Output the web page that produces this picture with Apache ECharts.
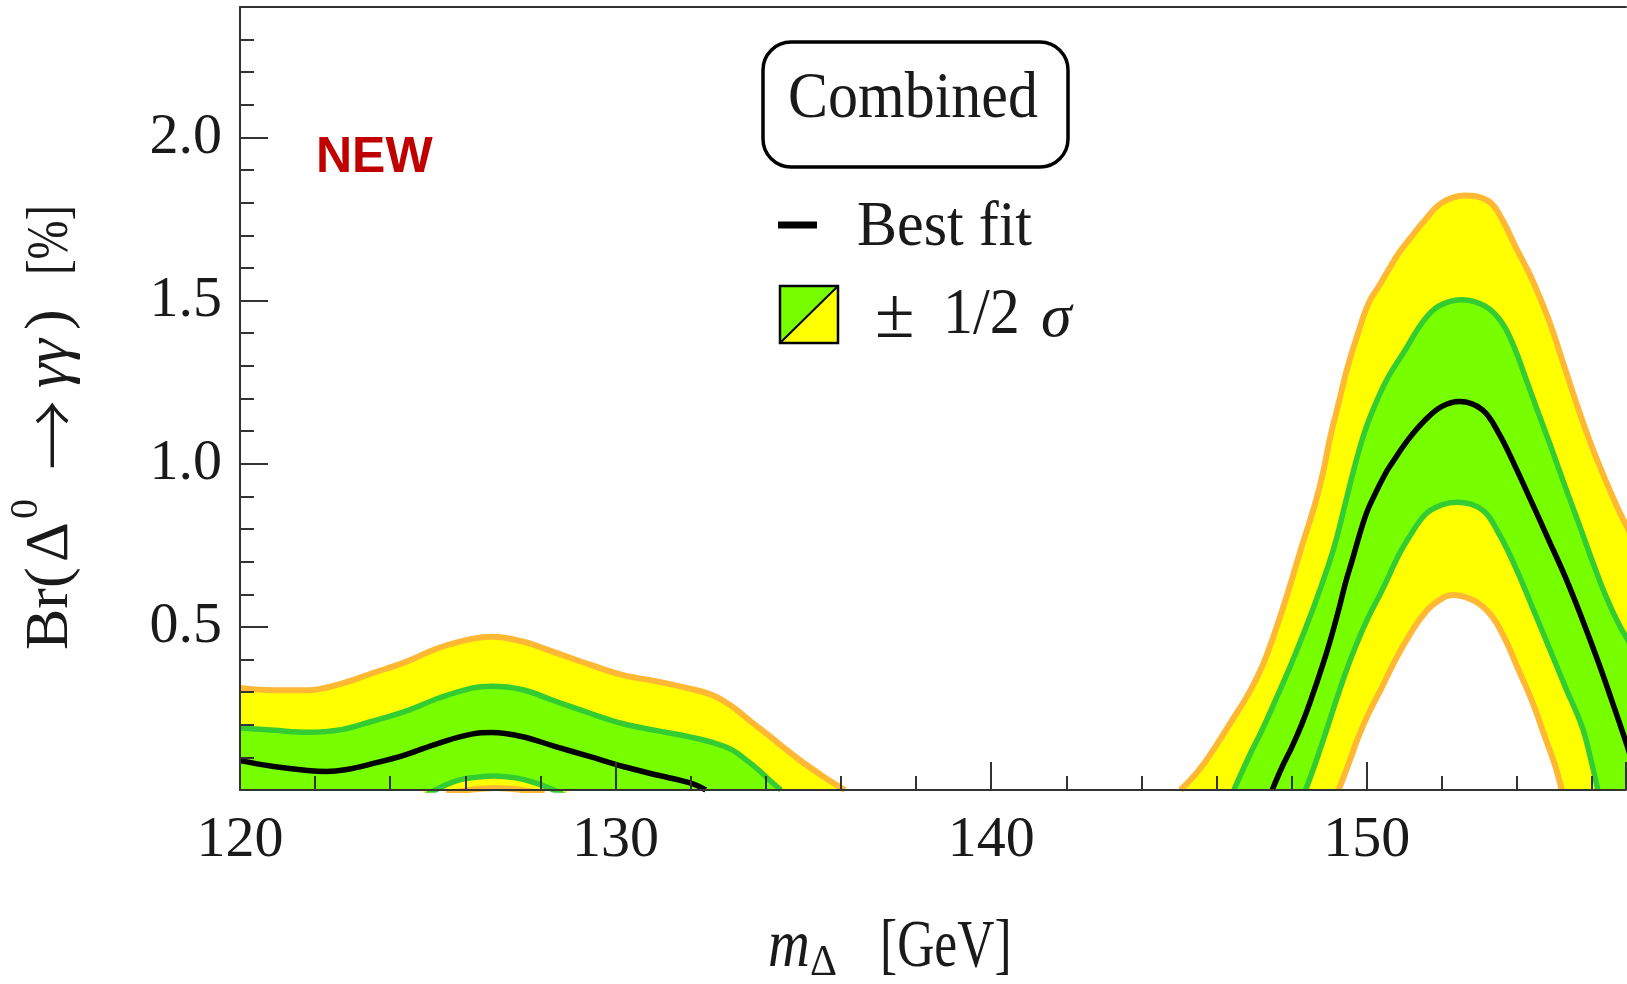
<!DOCTYPE html>
<html>
<head>
<meta charset="utf-8">
<title>Br(Δ0 → γγ) combined fit</title>
<script src="https://cdn.jsdelivr.net/npm/echarts@6/dist/echarts.min.js"></script>
<style>
  html, body { margin: 0; padding: 0; background: #fff; }
  #chart { width: 1627px; height: 984px; }
</style>
</head>
<body>
<div id="chart"></div>
<script>
// Tick labels
const xTickValues = [120, 130, 140, 150];
const yTickValues = [0.5, 1.0, 1.5, 2.0];

// Low-mass region, [m (GeV), Br (%)]
const twoSigmaUpLow = [
  [120, 0.313], [120.9, 0.306], [121.8, 0.306], [122.7, 0.326], [123.5, 0.357],
  [124.4, 0.392], [125.3, 0.436], [126.2, 0.464], [126.7, 0.47], [127.5, 0.456],
  [128.4, 0.421], [129.3, 0.385], [130.2, 0.352], [131.1, 0.333], [132.0, 0.31],
  [132.6, 0.29], [133.1, 0.256], [133.6, 0.21], [134.0, 0.174], [134.9, 0.092],
  [135.6, 0.036], [136.1, 0]
];
const oneSigmaUpLow = [
  [120, 0.19], [120.9, 0.183], [121.8, 0.177], [122.7, 0.185], [123.5, 0.21],
  [124.4, 0.241], [125.3, 0.282], [126.2, 0.313], [126.7, 0.318], [127.5, 0.308],
  [128.4, 0.272], [129.3, 0.236], [130.2, 0.203], [131.1, 0.182], [132.0, 0.162],
  [132.6, 0.145], [133.1, 0.123], [133.5, 0.09], [133.8, 0.062], [134.1, 0.03],
  [134.4, 0]
];
const bestFitLow = [
  [120, 0.09], [120.9, 0.072], [121.8, 0.06], [122.3, 0.057], [122.8, 0.062],
  [123.5, 0.08], [124.4, 0.108], [125.3, 0.144], [126.2, 0.172], [126.7, 0.176],
  [127.5, 0.164], [128.4, 0.133], [129.3, 0.103], [130.2, 0.072], [131.1, 0.046],
  [132.0, 0.021], [132.4, 0]
];
const oneSigmaDownLow = [
  [124.9, -0.02], [125.2, 0], [125.7, 0.026], [126.2, 0.038], [126.75, 0.043],
  [127.3, 0.038], [127.8, 0.024], [128.35, 0], [128.7, -0.02]
];
const twoSigmaDownLow = [
  [125.5, -0.012], [126.1, 0], [126.8, 0.006], [127.5, 0], [128.1, -0.012]
];

// High-mass region
const twoSigmaUpHigh = [
  [145.04, 0], [145.53, 0.061], [145.97, 0.133], [146.42, 0.215], [146.86, 0.297],
  [147.21, 0.378], [147.48, 0.46], [147.75, 0.552], [148.0, 0.644], [148.25, 0.74],
  [148.63, 0.88], [148.85, 0.982], [149.03, 1.084], [149.25, 1.186], [149.47, 1.289],
  [149.74, 1.391], [150.05, 1.493], [150.32, 1.544], [150.58, 1.595], [150.85, 1.646],
  [151.2, 1.698], [151.56, 1.749], [152.0, 1.8], [152.6, 1.822], [153.24, 1.805],
  [153.6, 1.749], [153.95, 1.667], [154.4, 1.565], [154.84, 1.442], [155.28, 1.29],
  [155.64, 1.165], [155.99, 1.053], [156.35, 0.951], [156.7, 0.859], [157, 0.79]
];
const oneSigmaUpHigh = [
  [146.46, 0], [146.86, 0.102], [147.21, 0.184], [147.57, 0.276], [147.92, 0.368],
  [148.28, 0.47], [148.63, 0.575], [148.95, 0.68], [149.16, 0.757], [149.43, 0.88],
  [149.7, 1.002], [149.96, 1.104], [150.32, 1.207], [150.58, 1.268], [151.03, 1.35],
  [151.47, 1.432], [151.91, 1.483], [152.53, 1.503], [153.15, 1.483], [153.6, 1.432],
  [153.95, 1.35], [154.22, 1.265], [154.57, 1.155], [154.93, 1.043], [155.28, 0.93],
  [155.64, 0.818], [155.99, 0.706], [156.35, 0.598], [156.7, 0.51], [157, 0.45]
];
const bestFitHigh = [
  [147.48, 0], [147.75, 0.072], [148.01, 0.133], [148.28, 0.205], [148.54, 0.286],
  [148.81, 0.378], [149.03, 0.46], [149.25, 0.552], [149.43, 0.634], [149.6, 0.7],
  [149.96, 0.839], [150.23, 0.91], [150.5, 0.971], [150.67, 1.002], [151.1, 1.074],
  [151.56, 1.135], [152.0, 1.176], [152.47, 1.191], [153.07, 1.166], [153.51, 1.094],
  [153.95, 0.992], [154.4, 0.879], [154.84, 0.767], [155.28, 0.654], [155.73, 0.525],
  [156.17, 0.39], [156.52, 0.275], [156.89, 0.15], [157, 0.11]
];
const oneSigmaDownHigh = [
  [148.37, 0], [148.63, 0.082], [148.9, 0.174], [149.16, 0.266], [149.43, 0.358],
  [149.7, 0.44], [150.05, 0.532], [150.41, 0.613], [150.85, 0.72], [151.1, 0.77],
  [151.56, 0.845], [152.0, 0.874], [152.4, 0.882], [153.07, 0.859], [153.51, 0.787],
  [153.95, 0.685], [154.4, 0.562], [154.84, 0.44], [155.28, 0.317], [155.73, 0.194],
  [155.95, 0.1], [156.15, 0]
];
const twoSigmaDownHigh = [
  [149.25, 0], [149.52, 0.082], [149.78, 0.164], [150.05, 0.235], [150.41, 0.317],
  [150.76, 0.399], [151.11, 0.47], [151.47, 0.532], [151.82, 0.573], [152.31, 0.598],
  [152.89, 0.578], [153.33, 0.532], [153.69, 0.46], [154.04, 0.368], [154.4, 0.272],
  [154.75, 0.16], [155.02, 0.072], [155.19, 0]
];

const YELLOW = '#FFFF00';
const GREEN = '#77FF00';
const ORANGE_EDGE = '#FFB833';
const GREEN_EDGE = '#33CC33';
const AXIS_COLOR = '#333333';
const SERIF = '"Liberation Serif", "DejaVu Serif", serif';

// One curve of the band plot; filled curves are painted down to Br = 0,
// nested bands are layered outer to inner so the stack reproduces the bands.
function curve(name, data, stroke, width, fill) {
  const s = {
    name: name,
    type: 'line',
    data: data,
    smooth: 0.4,
    symbol: 'none',
    clip: true,
    silent: true,
    animation: false,
    z: 2,
    lineStyle: { color: stroke, width: width, join: 'round' }
  };
  if (fill) s.areaStyle = { color: fill, opacity: 1, origin: 'start' };
  return s;
}

function regionSeries(up2, up1, best, down1, down2) {
  return [
    curve('+2σ', up2, ORANGE_EDGE, 6, YELLOW),
    curve('+1σ', up1, GREEN_EDGE, 5.5, GREEN),
    curve('-1σ', down1, GREEN_EDGE, 5.5, YELLOW),
    curve('-2σ', down2, ORANGE_EDGE, 6, '#FFFFFF'),
    curve('Best fit', best, '#000000', 5.5)
  ];
}

const series = [].concat(
  regionSeries(twoSigmaUpLow, oneSigmaUpLow, bestFitLow, oneSigmaDownLow, twoSigmaDownLow),
  regionSeries(twoSigmaUpHigh, oneSigmaUpHigh, bestFitHigh, oneSigmaDownHigh, twoSigmaDownHigh)
);

const axisLine = { show: true, lineStyle: { color: AXIS_COLOR, width: 2 } };

function txt(x, y, text, size, opts) {
  opts = opts || {};
  return {
    type: 'text',
    x: x, y: y,
    scaleX: opts.sx || 1,
    scaleY: opts.sy || 1,
    z: 100,
    style: {
      text: text,
      fill: opts.color || '#1a1a1a',
      fontSize: size,
      fontFamily: opts.family || SERIF,
      fontStyle: opts.italic ? 'italic' : 'normal',
      fontWeight: opts.weight || 'normal',
      align: opts.align || 'left',
      verticalAlign: 'middle'
    }
  };
}

const graphic = [
  // "NEW" tag
  txt(316, 158, 'NEW', 50, { color: '#C00000', weight: 'bold', family: '"Liberation Sans", Arial, sans-serif' }),

  // legend: title box
  { type: 'rect', z: 100, shape: { x: 763, y: 42, width: 305, height: 125, r: 28 },
    style: { fill: '#FFFFFF', stroke: '#000000', lineWidth: 3.5 } },
  txt(913, 100, 'Combined', 60, { align: 'center', sy: 1.1 }),

  // legend: best-fit line
  { type: 'line', z: 100, shape: { x1: 778, y1: 225, x2: 817, y2: 225 },
    style: { stroke: '#000000', lineWidth: 7 } },
  txt(857, 228, 'Best fit', 60, { sy: 1.05 }),

  // legend: split swatch for the 1σ / 2σ bands
  { type: 'polygon', z: 100, shape: { points: [[780, 286], [838, 286], [780, 343]] },
    style: { fill: GREEN } },
  { type: 'polygon', z: 100, shape: { points: [[838, 286], [838, 343], [780, 343]] },
    style: { fill: YELLOW } },
  { type: 'line', z: 101, shape: { x1: 780, y1: 343, x2: 838, y2: 286 },
    style: { stroke: '#000000', lineWidth: 2 } },
  { type: 'rect', z: 101, shape: { x: 780, y: 286, width: 58, height: 57 },
    style: { fill: 'none', stroke: '#000000', lineWidth: 2.5 } },
  txt(875, 318, '±', 72),
  txt(943, 316, '1/2', 60, { sy: 1.1 }),
  txt(1041, 320, 'σ', 62, { italic: true }),

  // x-axis title: m_Δ [GeV]
  txt(768, 948, 'm', 58, { italic: true, sy: 1.15 }),
  txt(810, 963, 'Δ', 42, { sy: 1.05 }),
  txt(880, 948, '[GeV]', 56, { sx: 0.92, sy: 1.2 }),

  // y-axis title: Br(Δ⁰ → γγ) [%], read bottom to top
  {
    type: 'group', x: 0, y: 650, rotation: Math.PI / 2, z: 100,
    children: [
      txt(0, 51, 'Br(', 62),
      txt(88, 51, 'Δ', 62),
      txt(131, 26, '0', 40),
      txt(180, 52, '→', 70, { family: '"Noto Sans CJK SC", "DejaVu Sans", sans-serif', weight: 300 }),
      txt(262, 51, 'γγ', 62, { italic: true }),
      txt(320, 51, ')', 62),
      txt(375, 51, '[%]', 60, { sx: 0.78 })
    ]
  }
];

const chart = echarts.init(document.getElementById('chart'), null, { renderer: 'canvas' });
chart.setOption({
  animation: false,
  backgroundColor: '#FFFFFF',
  grid: { left: 240, right: 1, top: 7, bottom: 194, containLabel: false },
  xAxis: [
    {
      type: 'value', position: 'bottom', min: 120, max: 156.9, interval: 10, z: 5,
      axisLine: axisLine,
      axisTick: { show: true, inside: true, length: 28, lineStyle: { color: AXIS_COLOR, width: 2 } },
      minorTick: { show: true, splitNumber: 5, length: 14, lineStyle: { color: AXIS_COLOR, width: 2 } },
      splitLine: { show: false },
      minorSplitLine: { show: false },
      axisLabel: {
        show: true, margin: 22, showMinLabel: true, showMaxLabel: false,
        color: '#1a1a1a', fontSize: 58, fontFamily: SERIF,
        formatter: function (v) { return xTickValues.indexOf(v) >= 0 ? String(v) : ''; }
      }
    },
    {
      type: 'value', position: 'top', min: 120, max: 156.9, z: 5,
      axisLine: axisLine,
      axisTick: { show: false }, axisLabel: { show: false }, splitLine: { show: false }
    }
  ],
  yAxis: [
    {
      type: 'value', position: 'left', min: 0, max: 2.4, interval: 0.5, z: 5,
      axisLine: axisLine,
      axisTick: { show: true, inside: true, length: 28, lineStyle: { color: AXIS_COLOR, width: 2 } },
      minorTick: { show: true, splitNumber: 5, length: 14, lineStyle: { color: AXIS_COLOR, width: 2 } },
      splitLine: { show: false },
      minorSplitLine: { show: false },
      axisLabel: {
        show: true, margin: 18, showMinLabel: false, showMaxLabel: false,
        color: '#1a1a1a', fontSize: 58, fontFamily: SERIF,
        formatter: function (v) {
          return yTickValues.some(function (t) { return Math.abs(t - v) < 1e-9; }) ? v.toFixed(1) : '';
        }
      }
    }
  ],
  series: series,
  graphic: graphic
});
</script>
</body>
</html>
